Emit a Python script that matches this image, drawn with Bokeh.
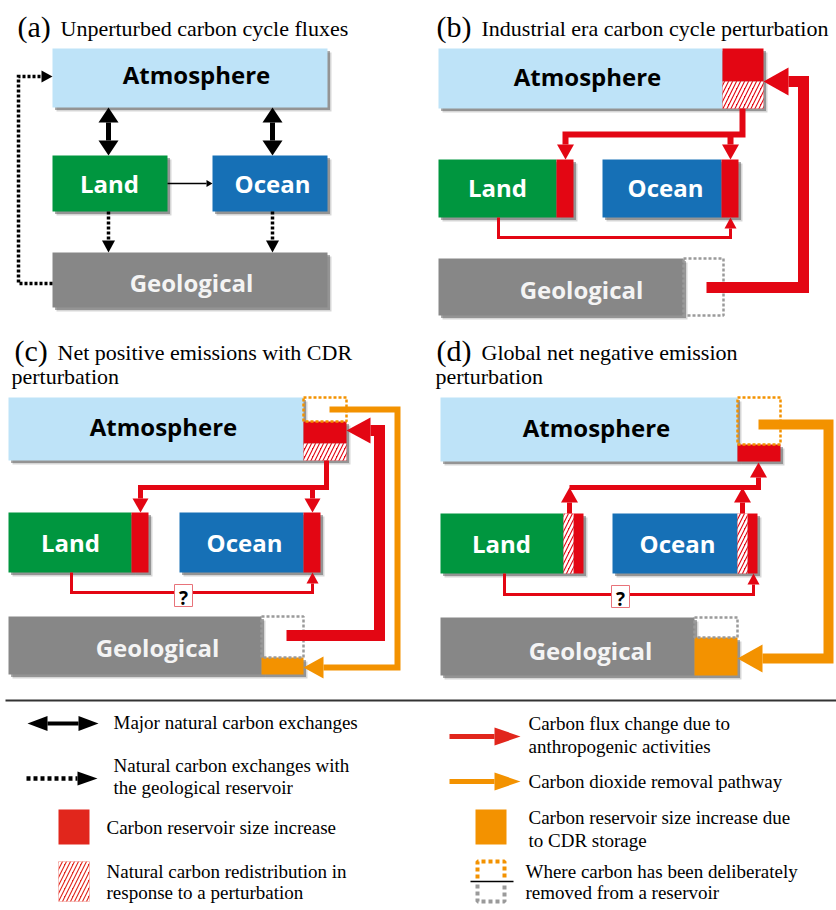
import math
from bokeh.plotting import figure
from bokeh.models import Range1d
from bokeh.core.properties import value
from bokeh.embed import file_html
from bokeh.resources import INLINE

# ---------------- colours ----------------
ATM = "#bee3f8"
LAND = "#00963f"
OCEAN = "#1670b6"
GEO = "#878787"
RED = "#e30613"
ORANGE = "#f39200"
LRED = "#e1261c"
DOTGRAY = "#9a9a9a"

# ---------------- panel titles ----------------
TITLE_TAGS = ["(a)", "(b)", "(c)", "(d)"]
TITLE_TAG_X = [17, 436, 14, 436]
TITLE_TAG_Y = [35, 35, 359, 359]
TITLE_TEXT = ["Unperturbed carbon cycle fluxes", "Industrial era carbon cycle perturbation",
              "Net positive emissions with CDR", "Global net negative emission",
              "perturbation", "perturbation"]
TITLE_TEXT_X = [60, 481, 57, 481, 11, 435]
TITLE_TEXT_Y = [35, 35, 359, 359, 383, 383]

# ---------------- reservoir labels ----------------
LABELS = ["Atmosphere", "Land", "Ocean", "Geological"] * 4
LABEL_COLORS = ["black", "white", "white", "#f4f4f4"] * 4
LABEL_X = [196, 109, 272, 191,
           587, 497, 665, 581,
           163, 70, 244, 157,
           596, 501, 677, 590]
LABEL_Y = [82, 191, 191, 290,
           84, 195, 195, 297,
           434, 550, 550, 655,
           435, 551, 551, 658]

# ---------------- filled pieces: left, right, top, bottom, fill, hatched ----------------
PIECES = [
    # (a)
    (52, 327, 48, 107, ATM, False), (52, 167, 155, 211, LAND, False),
    (212, 327, 155, 211, OCEAN, False), (52, 327, 252, 307, GEO, False),
    # (b)
    (438, 722, 48, 108, ATM, False), (722, 763, 48, 81, RED, False), (722, 763, 81, 108, RED, True),
    (438, 556, 159, 217, LAND, False), (556, 573, 159, 217, RED, False),
    (602, 721, 159, 217, OCEAN, False), (721, 738, 159, 217, RED, False),
    (438, 683, 258, 315, GEO, False),
    # (c)
    (8, 303, 397, 460, ATM, False), (303, 346, 421, 443, RED, False), (303, 346, 443, 460, RED, True),
    (8, 131, 512, 572, LAND, False), (131, 148, 512, 572, RED, False),
    (179, 303, 512, 572, OCEAN, False), (303, 320, 512, 572, RED, False),
    (8, 261, 616, 674, GEO, False), (261, 303, 657, 674, ORANGE, False),
    # (d)
    (440, 737, 397, 461, ATM, False), (737, 780, 444, 461, RED, False),
    (440, 563, 513, 573, LAND, False), (563, 573, 513, 573, RED, True), (573, 583, 513, 573, RED, False),
    (612, 737, 513, 573, OCEAN, False), (737, 747, 513, 573, RED, True), (747, 757, 513, 573, RED, False),
    (440, 694, 617, 675, GEO, False), (694, 737, 637, 675, ORANGE, False),
]

# dotted "removed" boxes: left, right, top, bottom, colour
DOTTED = [
    (683, 723, 258, 315, DOTGRAY),
    (303, 346, 397, 421, ORANGE), (261, 303, 616, 657, DOTGRAY),
    (737, 780, 397, 444, ORANGE), (694, 737, 617, 637, DOTGRAY),
]

# "?" boxes (centre x, centre y)
QBOX_X = [183, 620]
QBOX_Y = [595, 596]

# ---------------- connectors ----------------
# pts, line width, colour, head length, head width, dash, heads at both ends
CONNECTORS = [
    # (a)
    ([(108, 107), (108, 155)], 5, "black", 15, 20, "solid", True),
    ([(272, 107), (272, 155)], 5, "black", 15, 20, "solid", True),
    ([(167, 183), (212, 183)], 1.5, "black", 6, 7, "solid", False),
    ([(108, 211), (108, 252)], 3.5, "black", 12, 13, "3 2", False),
    ([(272, 211), (272, 252)], 3.5, "black", 12, 13, "3 2", False),
    ([(52, 283), (18, 283), (18, 76), (52, 76)], 3.5, "black", 11, 12, "3 2", False),
    # (b)
    ([(742, 108), (742, 134), (565, 134), (565, 159)], 6, RED, 15, 17, "solid", False),
    ([(730, 134), (730, 159)], 6, RED, 15, 17, "solid", False),
    ([(498, 217), (498, 237), (730, 237), (730, 217)], 3, RED, 11, 12, "solid", False),
    ([(706, 287), (803, 287), (803, 81), (763, 81)], 11, RED, 25, 28, "solid", False),
    # (c)
    ([(326, 460), (326, 487), (140, 487), (140, 512)], 5, RED, 14, 16, "solid", False),
    ([(312, 487), (312, 512)], 5, RED, 14, 16, "solid", False),
    ([(71, 572), (71, 592), (312, 592), (312, 572)], 3, RED, 11, 12, "solid", False),
    ([(286, 635), (379, 635), (379, 430), (346, 430)], 11, RED, 24, 26, "solid", False),
    ([(329, 409), (397, 409), (397, 667), (303, 667)], 6, ORANGE, 20, 22, "solid", False),
    # (d)
    ([(569, 513), (569, 487)], 5, RED, 15, 17, "solid", False),
    ([(742, 513), (742, 487)], 5, RED, 15, 17, "solid", False),
    ([(569, 487), (758, 487), (758, 462)], 5, RED, 15, 17, "solid", False),
    ([(504, 573), (504, 594), (753, 594), (753, 573)], 3, RED, 11, 12, "solid", False),
    ([(758, 424), (828, 424), (828, 658), (737, 658)], 10, ORANGE, 25, 28, "solid", False),
    # legend
    ([(27, 723), (98, 723)], 4, "black", 20, 15, "solid", True),
    ([(26, 778), (97, 778)], 4.5, "black", 20, 14, "4 3", False),
    ([(449, 736), (520, 736)], 5, LRED, 26, 18, "solid", False),
    ([(449, 781), (520, 781)], 5, ORANGE, 26, 18, "solid", False),
]

# ---------------- legend ----------------
LEG_PIECES = [(58, 89, 809, 844, LRED, False), (58, 89, 861, 901, LRED, True),
              (475, 506, 809, 844, ORANGE, False)]
LEG_TEXT = ["Major natural carbon exchanges",
            "Natural carbon exchanges with", "the geological reservoir",
            "Carbon reservoir size increase",
            "Natural carbon redistribution in", "response to a perturbation",
            "Carbon flux change due to", "anthropogenic activities",
            "Carbon dioxide removal pathway",
            "Carbon reservoir size increase due", "to CDR storage",
            "Where carbon has been deliberately", "removed from a reservoir"]
LEG_X = [113, 113, 113, 106, 106, 106, 528, 528, 528, 528, 528, 525, 525]
LEG_Y = [728, 771, 793, 833, 877, 898, 729, 752, 787, 823, 846, 877, 898]

# vertical correction of the text anchor relative to the drawn baseline (px)
LABEL_DY, TAG_DY, TITLE_DY, LEG_DY, Q_DY = -8, -9, -7, -6, 2

# ---------------- figure ----------------
p = figure(width=836, height=910, x_range=Range1d(0, 836), y_range=Range1d(910, 0),
           output_backend="svg", toolbar_location=None, x_axis_type=None, y_axis_type=None,
           min_border=0, outline_line_color=None)
p.background_fill_color = "white"
p.border_fill_color = "white"

# shadows
for off, a in ((4, 0.2), (2.5, 0.4)):
    p.quad(left=[q[0] + off for q in PIECES], right=[q[1] + off for q in PIECES],
           top=[q[2] + off for q in PIECES], bottom=[q[3] + off for q in PIECES],
           fill_color="#333333", fill_alpha=a, line_color=None)

allp = PIECES + LEG_PIECES
plain = [q for q in allp if not q[5]]
hatched = [q for q in allp if q[5]]
p.quad(left=[q[0] for q in plain], right=[q[1] for q in plain],
       top=[q[2] for q in plain], bottom=[q[3] for q in plain],
       fill_color=[q[4] for q in plain], line_color=None)
p.quad(left=[q[0] for q in hatched], right=[q[1] for q in hatched],
       top=[q[2] for q in hatched], bottom=[q[3] for q in hatched],
       fill_color=[q[4] for q in hatched], line_color=None,
       hatch_pattern="/", hatch_color="white", hatch_weight=2.5, hatch_scale=8)

# dotted boxes
for (l, r, t, b, c) in DOTTED:
    p.line([l, r, r, l, l], [t, t, b, b, t], line_color=c, line_width=2.5, line_dash="3 2")

# legend dotted symbol
p.line([477, 477, 504, 504], [878, 861, 861, 878], line_color=ORANGE, line_width=4, line_dash="4 3")
p.line([477, 477, 504, 504], [884, 901, 901, 884], line_color=DOTGRAY, line_width=4, line_dash="4 3")
p.line([470, 513], [881, 881], line_color="black", line_width=1.5)

# legend divider
p.line([5, 836], [700, 700], line_color="#333333", line_width=2)


def head(tip, prev, L, Wd):
    dx, dy = tip[0] - prev[0], tip[1] - prev[1]
    n = math.hypot(dx, dy)
    ux, uy = dx / n, dy / n
    bx, by = tip[0] - ux * L, tip[1] - uy * L
    px, py = -uy, ux
    xs = [tip[0], bx + px * Wd / 2, bx - px * Wd / 2]
    ys = [tip[1], by + py * Wd / 2, by - py * Wd / 2]
    return xs, ys, (bx, by)


hx, hy, hc = [], [], []
for pts, w, c, L, Wd, dash, both in CONNECTORS:
    pts = list(pts)
    xs, ys, base = head(pts[-1], pts[-2], L, Wd)
    hx.append(xs); hy.append(ys); hc.append(c)
    pts[-1] = base
    if both:
        xs, ys, base = head(pts[0], pts[1], L, Wd)
        hx.append(xs); hy.append(ys); hc.append(c)
        pts[0] = base
    p.line([q[0] for q in pts], [q[1] for q in pts], line_color=c, line_width=w,
           line_dash=dash, line_join="miter", line_cap="butt")
p.patches(hx, hy, fill_color=hc, line_color=None)

# "?" boxes
p.quad(left=[x - 9 for x in QBOX_X], right=[x + 9 for x in QBOX_X],
       top=[y - 11 for y in QBOX_Y], bottom=[y + 11 for y in QBOX_Y],
       fill_color="white", line_color="#e8737a", line_width=1)
p.text(QBOX_X, [y + Q_DY for y in QBOX_Y], text=["?", "?"], text_font=value("Open Sans"),
       text_font_style="bold", text_font_size="19px", text_align="center",
       text_baseline="alphabetic", text_color="black")

# reservoir labels
p.text(LABEL_X, [y + LABEL_DY for y in LABEL_Y], text=LABELS, text_color=LABEL_COLORS,
       text_font=value("Open Sans"), text_font_style="bold", text_font_size="24px",
       text_align="center", text_baseline="alphabetic")

# titles
p.text(TITLE_TAG_X, [y + TAG_DY for y in TITLE_TAG_Y], text=TITLE_TAGS,
       text_font=value("Liberation Serif"), text_font_size="30px",
       text_baseline="alphabetic", text_color="black")
p.text(TITLE_TEXT_X, [y + TITLE_DY for y in TITLE_TEXT_Y], text=TITLE_TEXT,
       text_font=value("Liberation Serif"), text_font_size="22px",
       text_baseline="alphabetic", text_color="black")

# legend text
p.text(LEG_X, [y + LEG_DY for y in LEG_Y], text=LEG_TEXT, text_font=value("Liberation Serif"),
       text_font_size="19px", text_baseline="alphabetic", text_color="black")

open("out.html", "w").write(file_html(p, INLINE))
